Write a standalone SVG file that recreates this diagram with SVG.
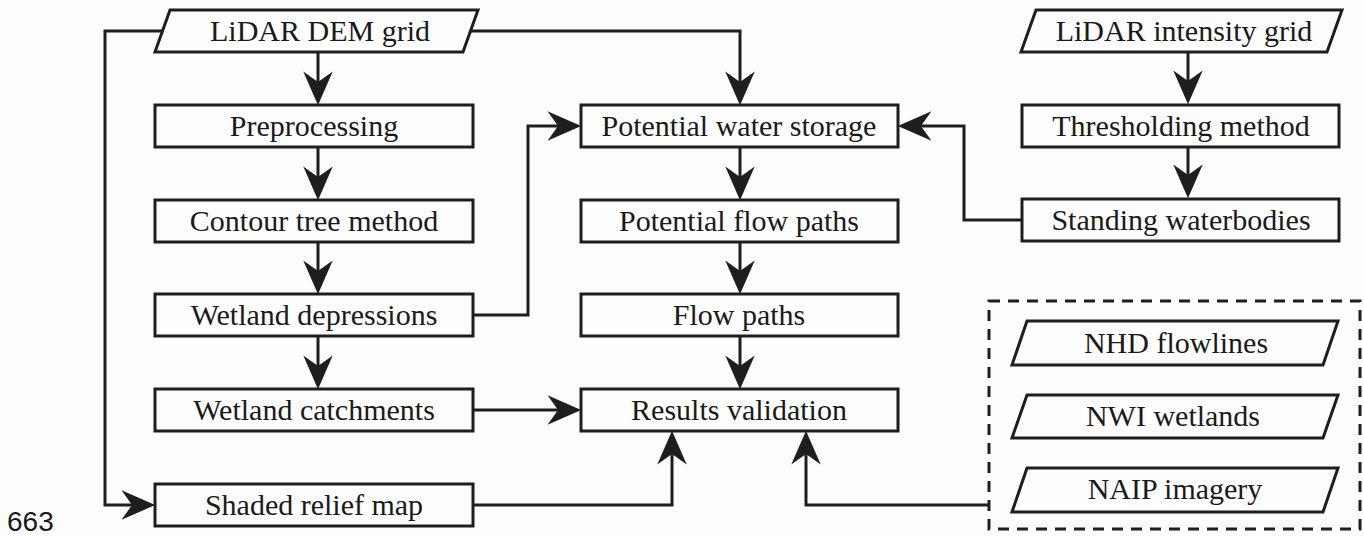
<svg xmlns="http://www.w3.org/2000/svg" width="1364" height="536" viewBox="0 0 1364 536">
<defs>
<marker id="arr" markerUnits="userSpaceOnUse" markerWidth="40" markerHeight="40" viewBox="-34 -16 38 32" refX="-4" refY="0" orient="auto" overflow="visible">
<path d="M0,0 L-32,-14 L-22,0 L-32,14 Z" fill="#1e1e1e"/>
</marker>
<style>
.box{fill:#fdfdfd;stroke:#1e1e1e;stroke-width:3}
.lbl{font-family:"Liberation Serif","Times New Roman",serif;font-size:30px;fill:#1a1a1a;text-anchor:middle}
.con{fill:none;stroke:#1e1e1e;stroke-width:3}
.arw{marker-end:url(#arr)}
</style>
</defs>
<rect x="0" y="0" width="1364" height="536" fill="#fdfdfd"/>

<g id="connectors">
<path class="con arw" d="M318,52 V101"/>
<path class="con arw" d="M318,147 V196"/>
<path class="con arw" d="M318,242 V290"/>
<path class="con arw" d="M318,336 V385"/>
<path class="con arw" d="M162,31 H105 V505 H151"/>
<path class="con arw" d="M470,31 H740 V101"/>
<path class="con arw" d="M473,315 H528 V126 H577"/>
<path class="con arw" d="M740,147 V196"/>
<path class="con arw" d="M740,242 V290"/>
<path class="con arw" d="M740,336 V385"/>
<path class="con arw" d="M473,410 H577"/>
<path class="con arw" d="M473,505 H672 V435"/>
<path class="con arw" d="M989,505 H806 V435"/>
<path class="con arw" d="M1188,52 V100"/>
<path class="con arw" d="M1188,148 V194"/>
<path class="con arw" d="M1022,220 H964 V126 H902"/>
</g>

<g id="n-dem">
<polygon class="box" points="170,10 478,10 463,52 155,52"/>
<text class="lbl" x="320" y="41">LiDAR DEM grid</text>
</g>
<g id="n-pre">
<rect class="box" x="155" y="105" width="318" height="42"/>
<text class="lbl" x="314" y="136">Preprocessing</text>
</g>
<g id="n-contour">
<rect class="box" x="155" y="200" width="318" height="42"/>
<text class="lbl" x="314" y="231">Contour tree method</text>
</g>
<g id="n-wetdep">
<rect class="box" x="155" y="294" width="318" height="42"/>
<text class="lbl" x="314" y="325">Wetland depressions</text>
</g>
<g id="n-catch">
<rect class="box" x="155" y="389" width="318" height="42"/>
<text class="lbl" x="314" y="420">Wetland catchments</text>
</g>
<g id="n-shaded">
<rect class="box" x="155" y="484" width="318" height="42"/>
<text class="lbl" x="314" y="515">Shaded relief map</text>
</g>

<g id="n-pws">
<rect class="box" x="581" y="105" width="317" height="42"/>
<text class="lbl" x="739" y="136">Potential water storage</text>
</g>
<g id="n-pfp">
<rect class="box" x="581" y="200" width="317" height="42"/>
<text class="lbl" x="739" y="231">Potential flow paths</text>
</g>
<g id="n-fp">
<rect class="box" x="581" y="294" width="317" height="42"/>
<text class="lbl" x="739" y="325">Flow paths</text>
</g>
<g id="n-rv">
<rect class="box" x="581" y="389" width="317" height="42"/>
<text class="lbl" x="739" y="420">Results validation</text>
</g>

<g id="n-intensity">
<polygon class="box" points="1036,10 1342,10 1327,52 1021,52"/>
<text class="lbl" x="1184" y="41">LiDAR intensity grid</text>
</g>
<g id="n-thresh">
<rect class="box" x="1022" y="105" width="317" height="42"/>
<text class="lbl" x="1181" y="136">Thresholding method</text>
</g>
<g id="n-standing">
<rect class="box" x="1022" y="199" width="317" height="42"/>
<text class="lbl" x="1181" y="230">Standing waterbodies</text>
</g>

<g id="n-refdata">
<rect x="989" y="301" width="371" height="228" fill="none" stroke="#1e1e1e" stroke-width="3" stroke-dasharray="11,8"/>
</g>
<g id="n-nhd">
<polygon class="box" points="1027,321 1338,321 1323,365 1012,365"/>
<text class="lbl" x="1176" y="353">NHD flowlines</text>
</g>
<g id="n-nwi">
<polygon class="box" points="1027,395 1338,395 1323,438 1012,438"/>
<text class="lbl" x="1173" y="426">NWI wetlands</text>
</g>
<g id="n-naip">
<polygon class="box" points="1027,468 1338,468 1323,512 1012,512"/>
<text class="lbl" x="1175" y="499">NAIP imagery</text>
</g>

<text x="7" y="531" font-family="Liberation Sans, Arial, sans-serif" font-size="28" fill="#1a1a1a">663</text>
</svg>
